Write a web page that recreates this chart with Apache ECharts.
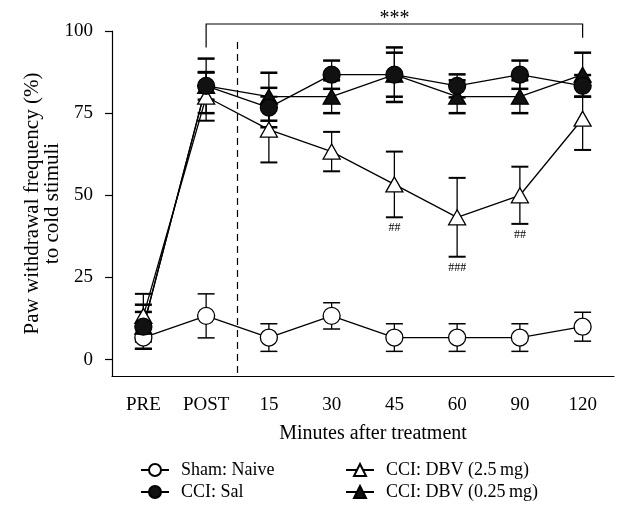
<!DOCTYPE html>
<html>
<head>
<meta charset="utf-8">
<script src="https://cdn.jsdelivr.net/npm/echarts@6/dist/echarts.min.js"></script>
<style>
  html, body { margin: 0; padding: 0; background: #fff; }
  #chart { width: 629px; height: 511px; }
</style>
</head>
<body>
<div id="chart"></div>
<script>
const categories = ["PRE", "POST", "15", "30", "45", "60", "90", "120"]
const yTicks = [0, 25, 50, 75, 100]

// mean and SEM
const shamMean = [6.7, 13.3, 6.7, 13.3, 6.7, 6.7, 6.7, 10]
const shamErr = [3.5, 6.7, 4.2, 4, 4.2, 4.2, 4.2, 4.4]
const salMean = [10, 83.3, 76.7, 86.7, 86.7, 83.3, 86.7, 83.3]
const salErr = [4.5, 8.3, 6, 4.3, 6.7, 3.5, 4.3, 3.3]
const dbvHighMean = [13.3, 80, 70, 63.3, 53.3, 43.3, 50, 73.3]
const dbvHighErr = [6.7, 7.3, 10, 6, 10, 12, 8.7, 9.5]
const dbvLowMean = [10, 83.3, 80, 80, 86.7, 80, 80, 86.7]
const dbvLowErr = [6.7, 4.2, 7.3, 5, 8.3, 5, 5, 6.7]

// "##" marks under the 2.5 mg series
const dbvHighMarks = ["", "", "", "", "##", "###", "##", ""]
const sigSpan = [1, 7]
const sigLabel = "***"
const treatAfter = 1 // dashed line sits between POST and 15

const seriesNames = ["Sham: Naive", "CCI: Sal", "CCI: DBV (2.5\u2009mg)", "CCI: DBV (0.25\u2009mg)"]

const FONT = "Liberation Serif"

const chart = echarts.init(document.getElementById("chart"))

function errorBars(mean, err, capWidth) {
  return {
    type: "custom",
    z: 2,
    silent: true,
    clip: false,
    data: mean.map((m, i) => [i, m - err[i], m + err[i]]),
    encode: { x: 0, y: [1, 2] },
    renderItem(params, api) {
      const lo = api.coord([api.value(0), api.value(1)])
      const hi = api.coord([api.value(0), api.value(2)])
      const half = 8.5
      const stroke = { stroke: "#000", lineWidth: 1.3 }
      const cap = { stroke: "#000", lineWidth: capWidth }
      return {
        type: "group",
        children: [
          { type: "line", shape: { x1: lo[0], y1: lo[1], x2: hi[0], y2: hi[1] }, style: stroke },
          { type: "line", shape: { x1: hi[0] - half, y1: hi[1], x2: hi[0] + half, y2: hi[1] }, style: cap },
          { type: "line", shape: { x1: lo[0] - half, y1: lo[1], x2: lo[0] + half, y2: lo[1] }, style: cap },
        ],
      }
    },
  }
}

function lineSeries(name, mean, symbol, size, fill) {
  return {
    name: name,
    type: "line",
    z: 3,
    data: mean,
    symbol: symbol,
    symbolSize: size,
    showAllSymbol: true,
    itemStyle: { color: fill, borderColor: "#000", borderWidth: 1.3 },
    lineStyle: { color: "#000", width: 1.3 },
    emphasis: { disabled: true },
  }
}

const allTop = categories.map((c, i) =>
  Math.max(
    shamMean[i] + shamErr[i],
    salMean[i] + salErr[i],
    dbvHighMean[i] + dbvHighErr[i],
    dbvLowMean[i] + dbvLowErr[i]
  )
)

// one legend block per entry, laid out in two columns
function legendItem(name, left, top) {
  return {
    data: [name],
    left: left,
    top: top,
    padding: 0,
    itemWidth: 28,
    itemHeight: 15,
    textStyle: { fontFamily: FONT, fontSize: 18, color: "#000", padding: [0, 0, 0, 7] },
    selectedMode: false,
  }
}

chart.setOption({
  animation: false,
  backgroundColor: "#fff",
  grid: { left: 112, right: 15, top: 31, bottom: 135 },
  legend: [
    legendItem(seriesNames[0], 140, 461),
    legendItem(seriesNames[1], 140, 483),
    legendItem(seriesNames[2], 345, 461),
    legendItem(seriesNames[3], 345, 483),
  ],
  xAxis: {
    type: "category",
    data: categories,
    boundaryGap: true,
    name: "Minutes after treatment",
    nameLocation: "middle",
    nameGap: 48,
    nameTextStyle: { fontFamily: FONT, fontSize: 20, color: "#000", padding: [0, 0, 0, 20] },
    axisLine: { onZero: false, lineStyle: { color: "#000", width: 1.2 } },
    axisTick: { alignWithLabel: true, length: 8, lineStyle: { color: "#000", width: 1.2 } },
    axisLabel: { fontFamily: FONT, fontSize: 19, color: "#000", margin: 20 },
  },
  yAxis: {
    type: "value",
    min: -5,
    max: 100,
    name: "Paw withdrawal frequency (%)\nto cold stimuli",
    nameLocation: "middle",
    nameRotate: 90,
    nameGap: 50,
    nameMoveOverlap: false,
    nameTextStyle: { fontFamily: FONT, fontSize: 21, color: "#000", lineHeight: 20 },
    splitLine: { show: false },
    axisLine: { show: true, lineStyle: { color: "#000", width: 1.2 } },
    axisTick: { show: true, length: 7, customValues: yTicks, lineStyle: { color: "#000", width: 1.2 } },
    axisLabel: { fontFamily: FONT, fontSize: 19, color: "#000", margin: 19, customValues: yTicks },
  },
  series: [
    errorBars(shamMean, shamErr, 1.5),
    errorBars(dbvHighMean, dbvHighErr, 2),
    errorBars(dbvLowMean, dbvLowErr, 2.5),
    errorBars(salMean, salErr, 2.5),
    lineSeries(seriesNames[0], shamMean, "circle", 17, "#fff"),
    lineSeries(seriesNames[2], dbvHighMean, "triangle", [17, 15], "#fff"),
    lineSeries(seriesNames[3], dbvLowMean, "triangle", [17, 15], "#111"),
    lineSeries(seriesNames[1], salMean, "circle", 17, "#111"),
    {
      // ## marks below the 2.5 mg error bars
      type: "custom",
      z: 4,
      silent: true,
      clip: false,
      data: dbvHighMean.map((m, i) => [i, m - dbvHighErr[i]]),
      renderItem(params, api) {
        const p = api.coord([api.value(0), api.value(1)])
        return {
          type: "text",
          style: {
            x: p[0],
            y: p[1] + 11,
            text: dbvHighMarks[params.dataIndex],
            fontFamily: FONT,
            fontSize: 12,
            fill: "#000",
            align: "center",
            verticalAlign: "middle",
          },
        }
      },
    },
    {
      // significance bracket and dashed treatment line
      type: "custom",
      z: 1,
      silent: true,
      clip: false,
      data: [[0, 0]],
      renderItem(params, api) {
        const cs = params.coordSys
        const x1 = api.coord([sigSpan[0], 0])[0]
        const x2 = api.coord([sigSpan[1], 0])[0]
        const yTop = cs.y - 7
        const y1 = api.coord([sigSpan[0], allTop[sigSpan[0]]])[1] - 11
        const y2 = api.coord([sigSpan[1], allTop[sigSpan[1]]])[1] - 15
        const xd = (api.coord([treatAfter, 0])[0] + api.coord([treatAfter + 1, 0])[0]) / 2
        const st = { stroke: "#000", lineWidth: 1.2, fill: null }
        return {
          type: "group",
          children: [
            { type: "polyline", shape: { points: [[x1, y1], [x1, yTop], [x2, yTop], [x2, y2]] }, style: st },
            {
              type: "text",
              style: {
                x: (x1 + x2) / 2,
                y: yTop - 5,
                text: sigLabel,
                fontFamily: FONT,
                fontSize: 20,
                fill: "#000",
                align: "center",
                verticalAlign: "middle",
              },
            },
            {
              type: "line",
              shape: { x1: xd, y1: cs.y + 11, x2: xd, y2: cs.y + cs.height },
              style: { stroke: "#000", lineWidth: 1.2, lineDash: [7, 5] },
            },
          ],
        }
      },
    },
  ],
})

window.addEventListener("resize", () => chart.resize())
</script>
</body>
</html>
